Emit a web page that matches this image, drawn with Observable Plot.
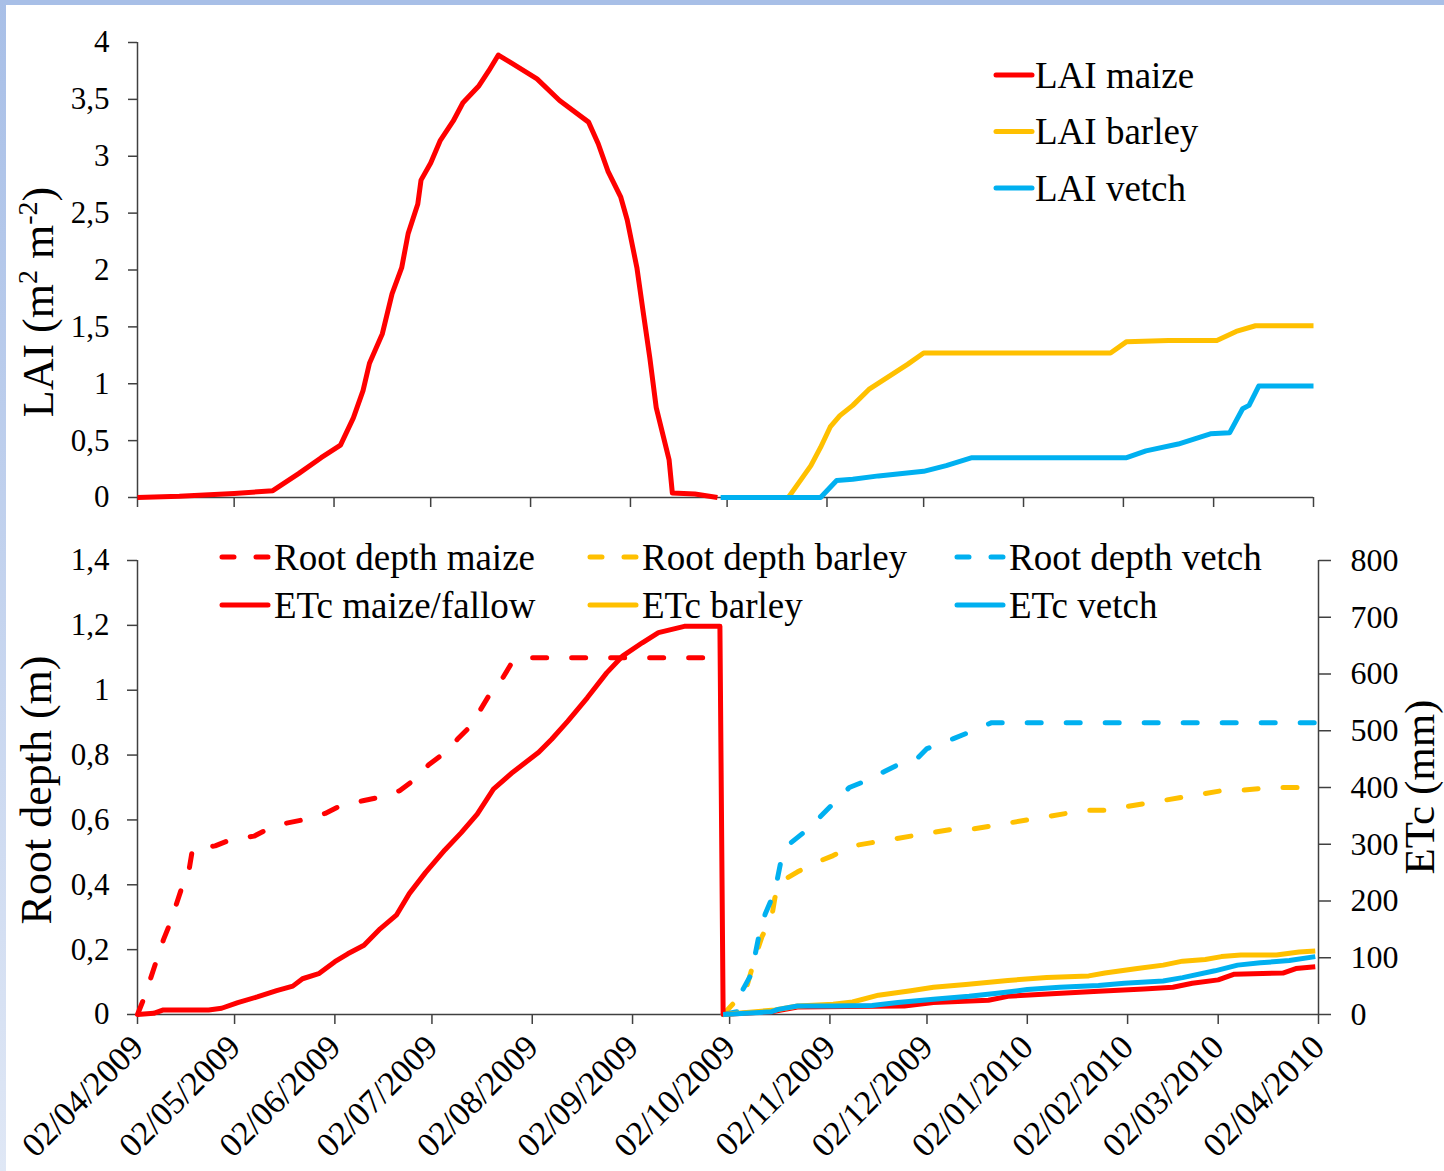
<!DOCTYPE html>
<html><head><meta charset="utf-8">
<script src="https://cdn.jsdelivr.net/npm/d3@7"></script>
<script src="https://cdn.jsdelivr.net/npm/@observablehq/plot@0.6"></script>
<style>
html,body{margin:0;padding:0;background:#fff;}
#page{position:relative;width:1444px;height:1171px;overflow:hidden;background:#fff;font-family:"Liberation Serif","Times New Roman",serif;}
#page > *{position:absolute;}
</style></head><body><div id="page"></div>
<script>
// ---------- data (day offset from 02/04/2009, value) ----------
const startLabel = "02/04/2009";
const endLabel = "02/04/2010";
const monthTickLabels = ["02/04/2009","02/05/2009","02/06/2009","02/07/2009","02/08/2009","02/09/2009","02/10/2009","02/11/2009","02/12/2009","02/01/2010","02/02/2010","02/03/2010","02/04/2010"];
const laiTicks = [0,0.5,1,1.5,2,2.5,3,3.5,4];
const rootTicks = [0,0.2,0.4,0.6,0.8,1,1.2,1.4];
const etcTicks = [0,100,200,300,400,500,600,700,800];

const laiMaize = [[0,0],[13,0.01],[30,0.035],[42,0.06],[50,0.21],[57,0.35],[63,0.46],[67,0.70],[70,0.94],[72,1.18],[76,1.44],[79,1.79],[82,2.02],[84,2.32],[87,2.58],[88,2.79],[91,2.94],[94,3.14],[98,3.31],[101,3.47],[106,3.62],[109,3.75],[112,3.89],[116,3.82],[124,3.68],[131,3.49],[140,3.30],[143,3.11],[146,2.87],[150,2.64],[152,2.44],[155,2.02],[157,1.62],[159,1.23],[161,0.79],[165,0.33],[166,0.04],[173,0.03],[180,0]];
const laiBarley = [[182,0],[202,0],[205,0.12],[209,0.28],[212,0.44],[215,0.62],[218,0.72],[222,0.81],[227,0.95],[233,1.06],[239,1.17],[244,1.27],[302,1.27],[307,1.37],[320,1.38],[335,1.38],[341,1.46],[347,1.51],[365,1.51]];
const laiVetch = [[181,0],[212,0],[217,0.15],[222,0.16],[230,0.19],[244,0.23],[251,0.28],[259,0.35],[307,0.35],[313,0.41],[323,0.47],[333,0.56],[339,0.57],[343,0.78],[345,0.81],[348,0.98],[365,0.98]];

const rootMaize = [[0,0],[2,0.05],[4,0.11],[6,0.17],[8,0.23],[10,0.28],[12,0.34],[14,0.40],[16,0.45],[17,0.51],[24,0.52],[29,0.54],[36,0.55],[40,0.57],[46,0.59],[51,0.60],[58,0.62],[62,0.64],[70,0.66],[75,0.67],[81,0.69],[85,0.72],[90,0.77],[94,0.80],[99,0.85],[103,0.89],[106,0.94],[109,0.99],[113,1.04],[116,1.09],[122,1.10],[176,1.10]];
const rootBarley = [[181,0],[188,0.075],[191,0.18],[193,0.24],[196,0.30],[197,0.36],[199,0.41],[204,0.44],[210,0.47],[215,0.49],[221,0.52],[227,0.53],[233,0.54],[239,0.55],[245,0.56],[251,0.57],[257,0.57],[263,0.58],[269,0.59],[275,0.60],[281,0.61],[287,0.62],[293,0.63],[299,0.63],[305,0.64],[311,0.65],[317,0.66],[323,0.67],[329,0.68],[335,0.69],[340,0.69],[350,0.70],[365,0.70]];
const rootVetch = [[181,0],[186,0.01],[187,0.075],[190,0.13],[191,0.19],[192,0.24],[194,0.31],[197,0.38],[199,0.48],[202,0.53],[207,0.57],[211,0.61],[215,0.65],[220,0.70],[225,0.72],[231,0.75],[235,0.77],[241,0.79],[244,0.82],[252,0.85],[257,0.87],[264,0.90],[365,0.90]];

const etcMaize = [[0,0],[5,2],[8,8],[22,8],[26,11],[31,21],[37,31],[43,42],[48,50],[51,63],[56,72],[61,93],[65,107],[70,122],[75,151],[80,175],[84,213],[89,250],[95,290],[100,320],[105,353],[110,397],[116,427],[124,462],[128,485],[133,517],[139,558],[145,602],[150,632],[156,655],[161,673],[169,684],[180,684],[181,0],[196,5],[204,13],[219,14],[237,15],[246,21],[263,25],[269,32],[284,37],[297,41],[311,45],[320,48],[326,55],[334,61],[339,71],[354,73],[358,81],[364,84]];
const etcBarley = [[181,0],[197,8],[204,15],[215,18],[221,22],[229,34],[239,42],[246,48],[256,53],[269,60],[281,65],[294,68],[299,73],[309,81],[317,87],[323,94],[330,97],[335,102],[341,105],[352,105],[359,110],[364,112]];
const etcVetch = [[181,0],[188,2],[196,5],[198,9],[204,15],[215,15],[227,16],[235,21],[246,27],[257,32],[265,37],[275,44],[285,48],[297,51],[305,55],[317,59],[323,65],[333,77],[340,87],[347,91],[356,95],[364,102]];

const topLegend = ["LAI maize","LAI barley","LAI vetch"];
const bottomLegendRoot = ["Root depth maize","Root depth barley","Root depth vetch"];
const bottomLegendEtc = ["ETc maize/fallow","ETc barley","ETc vetch"];
const colors = ["#FF0000","#FFC000","#00B0F0"];

// ---------- helpers ----------
const parse = d3.utcParse("%d/%m/%Y");
const fmtDate = d3.utcFormat("%d/%m/%Y");
const t0 = parse(startLabel), t1 = parse(endLabel);
const tickDates = monthTickLabels.map(parse);
const rows = pairs => pairs.map(([day, v]) => ({date: d3.utcDay.offset(t0, day), v}));
const comma = d => String(d).replace(".", ",");
const axisColor = "#404040";
const FONT = "'Liberation Serif', 'Times New Roman', serif";
const page = document.getElementById("page");
const lineOpts = (c, dash) => ({x: "date", y: "v", stroke: c, strokeWidth: 5, strokeLinejoin: "round", strokeLinecap: dash ? "round" : "butt", strokeDasharray: dash ? "14,25" : null});

function place(el, left, top) { el.style.left = left + "px"; el.style.top = top + "px"; page.appendChild(el); }
function serifify(el) {
  el.style.setProperty("font-family", FONT, "important");
  el.querySelectorAll("g, text, tspan").forEach(t => {
    t.removeAttribute("font-variant");
    t.setAttribute("font-family", FONT);
    t.style.setProperty("font-family", FONT, "important");
    t.style.setProperty("font-variant", "normal", "important");
  });
  return el;
}

// frame
const frameTop = document.createElement("div");
frameTop.style.cssText = "width:1444px;height:5px;background:#a8bfe7;";
place(frameTop, 0, 0);
const frameLeft = document.createElement("div");
frameLeft.style.cssText = "width:6px;height:1171px;background:linear-gradient(#a8bfe7,#dfe7f5);";
place(frameLeft, 0, 0);

const plotStyle = {background: "transparent", fontFamily: FONT, fontSize: "31px", color: "#000", overflow: "visible"};

// ---------- top panel ----------
const topPlot = Plot.plot({
  width: 1444, height: 520,
  marginLeft: 137, marginRight: 131, marginTop: 42, marginBottom: 23,
  x: {type: "utc", domain: [t0, t1]},
  y: {domain: [0, 4]},
  style: plotStyle,
  marks: [
    Plot.axisY({ticks: laiTicks, tickFormat: comma, tickSize: 9, tickPadding: 19, stroke: axisColor, fill: "#000", strokeWidth: 1.5, label: null, fontSize: 31}),
    Plot.axisX({ticks: tickDates, tickFormat: () => "", tickSize: 10, stroke: axisColor, strokeWidth: 1.5, label: null}),
    Plot.ruleX([t0], {stroke: axisColor, strokeWidth: 1.5}),
    Plot.ruleY([0], {stroke: axisColor, strokeWidth: 1.5}),
    Plot.line(rows(laiMaize), lineOpts(colors[0])),
    Plot.line(rows(laiBarley), lineOpts(colors[1])),
    Plot.line(rows(laiVetch), lineOpts(colors[2]))
  ]
});
place(serifify(topPlot), 0, 0);

// ---------- bottom panel: root depth ----------
const bottomDims = {width: 1444, height: 651, marginLeft: 137, marginRight: 126, marginTop: 40, marginBottom: 157};
const rootPlot = Plot.plot({
  ...bottomDims,
  x: {type: "utc", domain: [t0, t1]},
  y: {domain: [0, 1.4]},
  style: plotStyle,
  marks: [
    Plot.axisY({ticks: rootTicks, tickFormat: comma, tickSize: 10, tickPadding: 18, stroke: axisColor, fill: "#000", strokeWidth: 1.5, label: null, fontSize: 31}),
    Plot.axisX({ticks: tickDates, tickFormat: fmtDate, tickRotate: -45, tickSize: 10, tickPadding: 17, stroke: axisColor, fill: "#000", strokeWidth: 1.5, label: null, fontSize: 34}),
    Plot.ruleX([t0], {stroke: axisColor, strokeWidth: 1.5}),
    Plot.ruleY([0], {stroke: axisColor, strokeWidth: 1.5}),
    Plot.line(rows(rootMaize), lineOpts(colors[0], true)),
    Plot.line(rows(rootBarley), lineOpts(colors[1], true)),
    Plot.line(rows(rootVetch), lineOpts(colors[2], true))
  ]
});
place(serifify(rootPlot), 0, 520);

// ---------- bottom panel: ETc (right axis) ----------
const etcPlot = Plot.plot({
  ...bottomDims,
  x: {type: "utc", domain: [t0, t1], axis: null},
  y: {domain: [0, 800]},
  style: plotStyle,
  marks: [
    Plot.axisY({anchor: "right", ticks: etcTicks, tickSize: 12, tickPadding: 20, stroke: axisColor, fill: "#000", strokeWidth: 1.5, label: null, fontSize: 32}),
    Plot.ruleX([t1], {stroke: axisColor, strokeWidth: 1.5}),
    Plot.line(rows(etcMaize), lineOpts(colors[0])),
    Plot.line(rows(etcBarley), lineOpts(colors[1])),
    Plot.line(rows(etcVetch), lineOpts(colors[2]))
  ]
});
place(serifify(etcPlot), 0, 520);

// ---------- titles & legends ----------
const ov = d3.create("svg").attr("width", 1444).attr("height", 1171)
  .style("pointer-events", "none");
place(ov.node(), 0, 0);

const laiTitle = ov.append("text").attr("transform", "translate(53,302) rotate(-90)")
  .attr("text-anchor", "middle").attr("font-size", 44).attr("fill", "#000");
laiTitle.append("tspan").text("LAI (m");
laiTitle.append("tspan").attr("dy", -16).attr("font-size", 28).text("2");
laiTitle.append("tspan").attr("dy", 16).text(" m");
laiTitle.append("tspan").attr("dy", -16).attr("font-size", 28).text("-2");
laiTitle.append("tspan").attr("dy", 16).text(")");

ov.append("text").attr("transform", "translate(51,790) rotate(-90)")
  .attr("text-anchor", "middle").attr("font-size", 44).attr("fill", "#000").text("Root depth (m)");
ov.append("text").attr("transform", "translate(1434,787) rotate(-90)")
  .attr("text-anchor", "middle").attr("font-size", 43).attr("fill", "#000").text("ETc (mm)");

// top legend
topLegend.forEach((name, i) => {
  const y = 75 + i * 56.5;
  ov.append("line").attr("x1", 996).attr("x2", 1032).attr("y1", y).attr("y2", y)
    .attr("stroke", colors[i]).attr("stroke-width", 5).attr("stroke-linecap", "round");
  ov.append("text").attr("x", 1035).attr("y", y).attr("dy", "0.34em").attr("font-size", 37).attr("fill", "#000").text(name);
});

// bottom legend
const colX = [220, 588, 955];
[bottomLegendRoot, bottomLegendEtc].forEach((names, r) => {
  const y = 557 + r * 48;
  names.forEach((name, i) => {
    const x = colX[i];
    ov.append("line").attr("x1", x + 2).attr("x2", x + 48).attr("y1", y).attr("y2", y)
      .attr("stroke", colors[i]).attr("stroke-width", 5)
      .attr("stroke-linecap", "round")
      .attr("stroke-dasharray", r === 0 ? "12,22" : null);
    ov.append("text").attr("x", x + 54).attr("y", y).attr("dy", "0.34em").attr("font-size", 37).attr("fill", "#000").text(name);
  });
});
serifify(ov.node());
</script></body></html>
